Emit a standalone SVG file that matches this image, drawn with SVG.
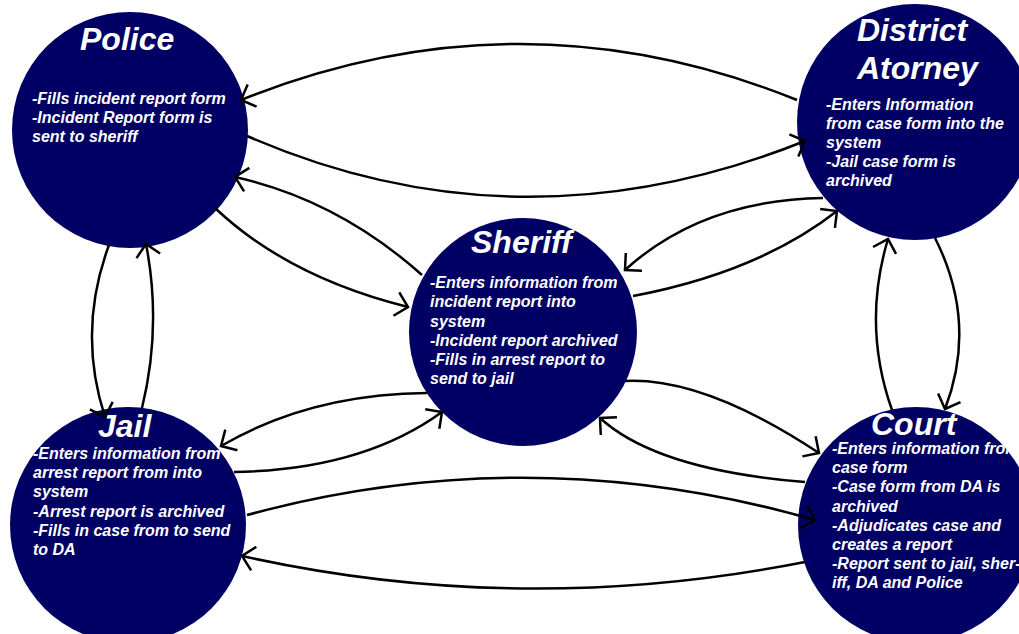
<svg xmlns="http://www.w3.org/2000/svg" width="1019" height="634" viewBox="0 0 1019 634">
<style>
.node{fill:#000064}
.t{font-family:"Liberation Sans",Arial,sans-serif;font-weight:bold;font-style:italic;fill:#ffffff}
.title{font-size:32px}
.body{font-size:16px}
.c{fill:none;stroke:#000;stroke-width:2.5;marker-end:url(#arr)}
</style>
<defs>
<marker id="arr" markerUnits="userSpaceOnUse" markerWidth="30" markerHeight="30" viewBox="-15 -15 30 30" refX="0" refY="0" orient="auto">
<path d="M-12,-12 L0,0 L-12,12" fill="none" stroke="#000" stroke-width="2.5"/>
</marker>
</defs>
<rect width="1019" height="634" fill="#ffffff"/>
<g id="police">
<circle class="node" cx="130" cy="130" r="118"/>
<text class="t title" x="80" y="50">Police</text>
<text class="t body"><tspan x="32" y="104">-Fills incident report form</tspan><tspan x="32" y="123">-Incident Report form is</tspan><tspan x="32" y="142">sent to sheriff</tspan></text>
</g>
<g id="district-attorney">
<circle class="node" cx="915" cy="122" r="118"/>
<text class="t title"><tspan x="857" y="41">District</tspan><tspan x="857" y="79">Atorney</tspan></text>
<text class="t body"><tspan x="826" y="110">-Enters Information</tspan><tspan x="826" y="129">from case form into the</tspan><tspan x="826" y="148">system</tspan><tspan x="826" y="167">-Jail case form is</tspan><tspan x="826" y="186">archived</tspan></text>
</g>
<g id="sheriff">
<circle class="node" cx="523" cy="332" r="114"/>
<text class="t title" x="471" y="253">Sheriff</text>
<text class="t body"><tspan x="430" y="288">-Enters information from</tspan><tspan x="430" y="307">incident report into</tspan><tspan x="430" y="327">system</tspan><tspan x="430" y="346">-Incident report archived</tspan><tspan x="430" y="365">-Fills in arrest report to</tspan><tspan x="430" y="384">send to jail</tspan></text>
</g>
<g id="jail">
<circle class="node" cx="128" cy="525" r="118"/>
<text class="t title" x="98" y="437">Jail</text>
<text class="t body"><tspan x="33" y="459">-Enters information from</tspan><tspan x="33" y="478">arrest report from into</tspan><tspan x="33" y="497">system</tspan><tspan x="33" y="517">-Arrest report is archived</tspan><tspan x="33" y="536">-Fills in case from to send</tspan><tspan x="33" y="555">to DA</tspan></text>
</g>
<g id="court">
<circle class="node" cx="916" cy="525" r="118"/>
<text class="t title" x="871" y="435">Court</text>
<text class="t body"><tspan x="832" y="454">-Enters information from</tspan><tspan x="832" y="473">case form</tspan><tspan x="832" y="492">-Case form from DA is</tspan><tspan x="832" y="512">archived</tspan><tspan x="832" y="531">-Adjudicates case and</tspan><tspan x="832" y="550">creates a report</tspan><tspan x="832" y="569">-Report sent to jail, sher-</tspan><tspan x="832" y="588">iff, DA and Police</tspan></text>
</g>
<g id="connectors">
<path class="c" d="M797,100 Q520,-12 241,100"/>
<path class="c" d="M247,136 Q520,255 805,141"/>
<path class="c" d="M422,275 Q338,200 235,177"/>
<path class="c" d="M215,208 Q288,277 408,307"/>
<path class="c" d="M823,198 Q702,200 625,270"/>
<path class="c" d="M633,296 Q759,272 837,211"/>
<path class="c" d="M427,393 Q310,394 221,446"/>
<path class="c" d="M234,472 Q362,470 442,412"/>
<path class="c" d="M625,381 Q704,377 819,453"/>
<path class="c" d="M805,482 Q657,470 600,418"/>
<path class="c" d="M247,515 Q530,438 815,520"/>
<path class="c" d="M805,562 Q520,618 242,556"/>
<path class="c" d="M109,245 Q77,331 105,417"/>
<path class="c" d="M142,408 Q162,326 146,244"/>
<path class="c" d="M892,410 Q862,325 888,239"/>
<path class="c" d="M935,238 Q978,323 945,409"/>
</g>
</svg>
